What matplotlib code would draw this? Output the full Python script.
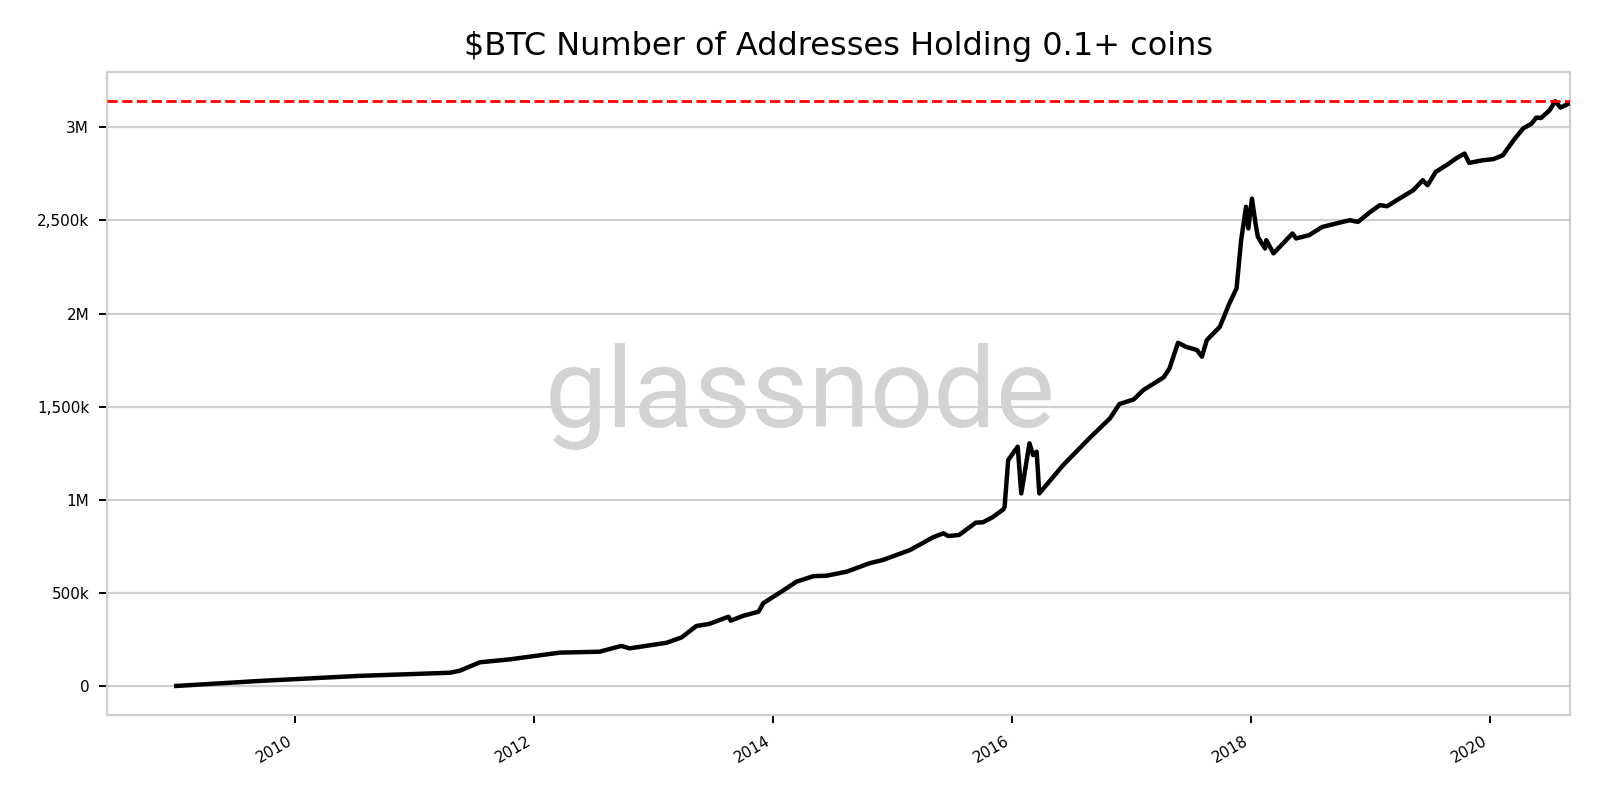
import matplotlib
matplotlib.use('Agg')
import matplotlib.pyplot as plt
import matplotlib.dates as mdates
from matplotlib.ticker import FuncFormatter
import pandas as pd

# values (number of addresses, thousands)
dates = ['2009-01-03', '2009-09-15', '2010-07-15', '2011-04-20', '2011-05-20',
         '2011-07-20', '2011-10-20', '2012-03-20', '2012-07-20', '2012-09-24',
         '2012-10-20', '2013-02-10', '2013-03-28', '2013-05-12', '2013-06-20',
         '2013-08-18', '2013-08-25', '2013-10-01', '2013-11-18', '2013-12-02',
         '2014-02-03', '2014-03-14', '2014-05-05', '2014-06-14', '2014-08-15',
         '2014-10-23', '2014-12-02', '2015-02-24', '2015-05-05', '2015-06-06',
         '2015-06-21', '2015-07-24', '2015-09-13', '2015-10-05', '2015-11-03',
         '2015-12-06', '2015-12-10', '2015-12-21', '2016-01-19', '2016-01-30',
         '2016-02-24', '2016-03-06', '2016-03-17', '2016-03-25', '2016-06-06',
         '2016-08-25', '2016-10-27', '2016-11-25', '2017-01-08', '2017-02-06',
         '2017-04-09', '2017-04-27', '2017-05-23', '2017-06-17', '2017-07-20',
         '2017-08-04', '2017-08-19', '2017-09-28', '2017-10-27', '2017-11-18',
         '2017-12-02', '2017-12-17', '2017-12-24', '2018-01-04', '2018-01-15',
         '2018-01-22', '2018-02-13', '2018-02-17', '2018-03-11', '2018-05-08',
         '2018-05-19', '2018-06-28', '2018-08-07', '2018-10-08', '2018-10-30',
         '2018-11-24', '2019-01-01', '2019-01-30', '2019-02-21', '2019-03-26',
         '2019-05-12', '2019-06-10', '2019-06-25', '2019-07-20', '2019-08-22',
         '2019-09-20', '2019-10-16', '2019-10-30', '2019-12-10', '2020-01-12',
         '2020-02-10', '2020-03-14', '2020-04-12', '2020-05-08', '2020-05-22',
         '2020-06-06', '2020-07-02', '2020-07-19', '2020-08-04', '2020-08-29']
addresses_k = [0, 27, 54, 71, 82,
               127, 143, 179, 184, 215,
               202, 232, 261, 322, 333,
               372, 351, 376, 399, 444,
               515, 560, 590, 592, 614,
               659, 676, 730, 798, 820,
               805, 811, 877, 879, 906,
               948, 962, 1213, 1285, 1034,
               1303, 1240, 1258, 1034, 1186,
               1330, 1437, 1514, 1539, 1589,
               1657, 1705, 1843, 1821, 1804,
               1768, 1857, 1929, 2054, 2135,
               2394, 2573, 2457, 2617, 2484,
               2412, 2349, 2394, 2323, 2430,
               2403, 2421, 2465, 2492, 2501,
               2492, 2546, 2582, 2576, 2612,
               2662, 2716, 2689, 2761, 2797,
               2833, 2859, 2809, 2823, 2829,
               2850, 2931, 2994, 3020, 3052,
               3050, 3092, 3140, 3106, 3127]

x = pd.to_datetime(dates)
y = [v * 1000 for v in addresses_k]


def fmt_y(v, pos):
    if v == 0:
        return '0'
    if v % 1000000 == 0:
        return '{}M'.format(int(v / 1000000))
    return '{:,}k'.format(int(v / 1000))


fig = plt.figure(figsize=(8, 4), dpi=200)
ax = fig.add_axes([0.067, 0.106, 0.914, 0.804])

ax.plot(x, y, color='black', linewidth=1.6, zorder=3)
ax.axhline(max(y), color='red', linestyle='--', linewidth=1, zorder=4)

ax.set_xlim(pd.Timestamp('2008-06-06'), pd.Timestamp('2020-09-01'))
ax.yaxis.set_major_formatter(FuncFormatter(fmt_y))
ax.xaxis.set_major_locator(mdates.YearLocator(2))
ax.xaxis.set_major_formatter(mdates.DateFormatter('%Y'))

ax.grid(axis='y', color='#d0d0d0', linewidth=0.8)
ax.set_axisbelow(True)
for s in ax.spines.values():
    s.set_color('#d0d0d0')
    s.set_linewidth(0.8)
ax.tick_params(labelsize=5.5, length=3, width=0.7, color='black')
for lbl in ax.get_xticklabels():
    lbl.set_rotation(30)
    lbl.set_ha('right')

ax.set_title(r'\$BTC Number of Addresses Holding 0.1+ coins', fontsize=11.5)

# watermark
fig.text(0.5, 0.505, 'glassnode', fontsize=40, color='#d3d3d3',
         family=['Roboto', 'DejaVu Sans'],
         ha='center', va='center', zorder=0)

plt.savefig('out.png', dpi=200)
